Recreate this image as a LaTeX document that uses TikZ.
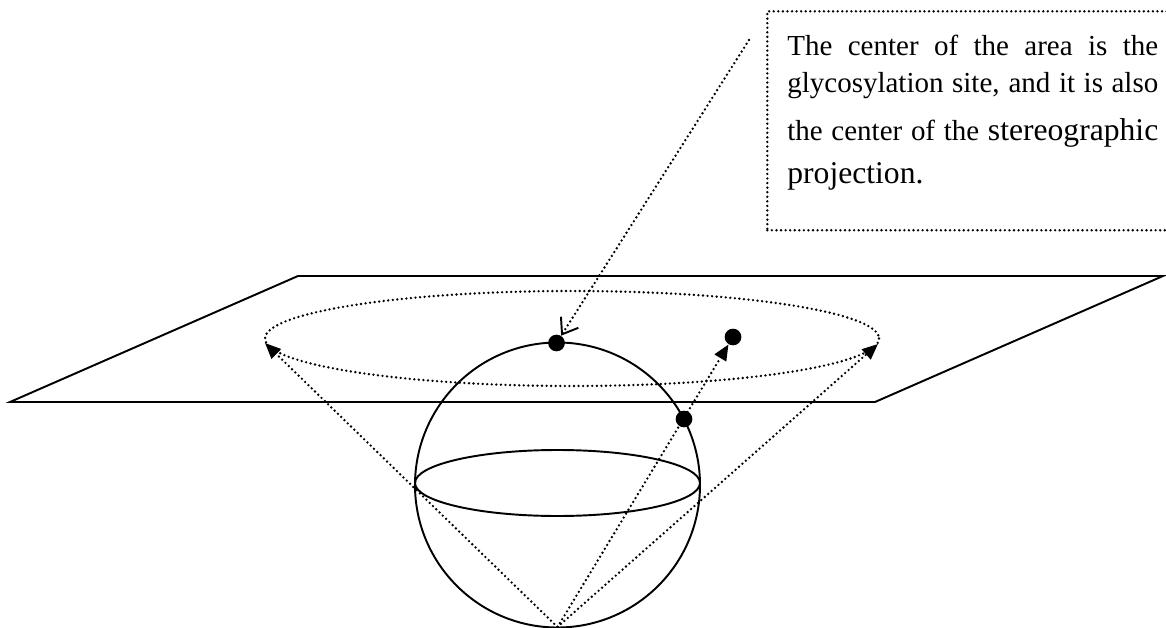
\documentclass[tikz,border=0pt]{standalone}
\usepackage{fontspec}
\setmainfont{Liberation Serif}
\usepackage{tikz}
\usetikzlibrary{arrows.meta, positioning, calc}
\tikzset{
  solidline/.style={line width=1.1pt, color=black},
  dotline/.style={line width=1.5pt, dash pattern=on 0pt off 2.6pt, line cap=round, color=black},
  projarrow/.style={dotline, -{Triangle[length=9pt, width=7.5pt]}},
  pointarrow/.style={dotline, -{Straight Barb[angle=72:10pt, line width=1.1pt]}},
  site/.style={circle, fill=black, inner sep=0pt, minimum size=9.5pt},
  notebox/.style={rectangle, draw, dotline, inner sep=0pt, minimum width=8.2cm, minimum height=4.38cm},
  notetext/.style={text width=7.42cm, align=left, inner sep=0pt, font=\fontsize{16.5}{21}\selectfont}
}
\newcommand{\fullline}[1]{{\spaceskip=\fontdimen2\font plus 1fil\relax\makebox[7.42cm][s]{#1}}}

\begin{document}
\begin{tikzpicture}[x=0.02cm, y=-0.02cm]
  \useasboundingbox (0,0) rectangle (1166,628);

  % Plane and sphere
  \draw[solidline] (298,276) -- (1163,276) -- (875,402) -- (10,402) -- cycle;
  \coordinate (centre) at (557.5,485);
  \draw[solidline] (centre) circle [radius=142.5];
  \draw[solidline] (557.5,483) ellipse [x radius=142.5, y radius=33];
  \draw[dotline] (572,338.5) ellipse [x radius=307, y radius=47.5];

  % Nodes
  \coordinate (pole) at (557.5,627);
  \coordinate (tipL) at (265,343);
  \coordinate (tipR) at (878,344);
  \node[site] (top) at (556.5,343) {};
  \node[site] (onsph) at (684,419) {};
  \node[site] (imgP) at (733,337) {};

  \node[notebox, anchor=north west] (box) at (766,10) {};
  \node[notetext, anchor=north west] (note) at (787,35) {%
    \fullline{The center of the area is the}\\
    \fullline{glycosylation site, and it is also}\\[6pt]
    \fullline{the center of the {\fontsize{18}{22}\selectfont stereographic}}\\[3.5pt]
    {\fontsize{18}{22}\selectfont projection.}};
  \coordinate (ptr) at (749,40);

  % Arrows
  \draw[projarrow] (pole) -- (tipL);
  \draw[projarrow] (pole) -- (tipR);
  \draw[projarrow] (pole) -- (imgP);
  \draw[pointarrow] (ptr) -- (top);

\end{tikzpicture}
\end{document}
